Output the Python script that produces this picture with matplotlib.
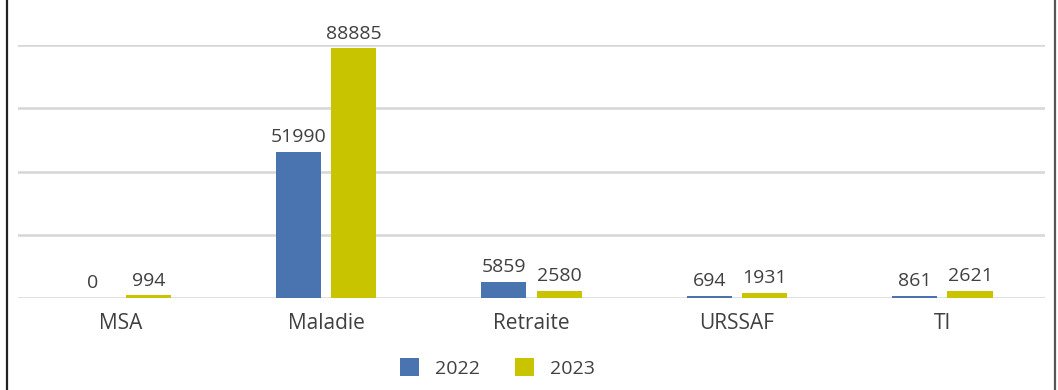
import numpy as np
import matplotlib.pyplot as plt
from matplotlib.lines import Line2D
from matplotlib.patches import Patch

categories = ["MSA", "Maladie", "Retraite", "URSSAF", "TI"]
values_2022 = [0, 51990, 5859, 694, 861]
values_2023 = [994, 88885, 2580, 1931, 2621]

col_2022 = "#4a74b0"
col_2023 = "#c8c400"
txt = "#404040"

plt.rcParams['font.family'] = ['Open Sans', 'DejaVu Sans']

fig = plt.figure(figsize=(10.58, 3.9), dpi=100)
ax = fig.add_axes([18/1058, 92/390, 1027/1058, 253/390])

x = np.arange(len(categories))
w = 0.22
off = 0.135

b1 = ax.bar(x - off, values_2022, w, color=col_2022, zorder=3)
b2 = ax.bar(x + off, values_2023, w, color=col_2023, zorder=3)

# value labels above bars
for bars in (b1, b2):
    for r in bars:
        ax.annotate(str(int(r.get_height())),
                    (r.get_x() + r.get_width()/2, r.get_height()),
                    xytext=(0, 4), textcoords="offset points",
                    ha="center", va="bottom", fontsize=14, color=txt)

ax.set_xlim(-0.5, len(categories) - 0.5)
ax.set_ylim(0, 90000)
ax.set_yticks(np.arange(0, 90001, 22500))
ax.yaxis.grid(True, color="#d6d6d6", linewidth=1.8, zorder=0)
ax.set_axisbelow(True)
ax.tick_params(axis="y", left=False, labelleft=False)
ax.tick_params(axis="x", bottom=False, pad=7)
ax.set_xticks(x)
ax.set_xticklabels(categories, fontsize=15, color=txt)
for s in ax.spines.values():
    s.set_visible(False)

legend_elements = [
    Patch(facecolor=col_2022, label="2022"),
    Patch(facecolor=col_2023, label="2023"),
]
fig.legend(handles=legend_elements, loc="center", ncol=2, frameon=False,
           bbox_to_anchor=(497/1058, 1 - 368/390), fontsize=14,
           handlelength=1.0, handleheight=1.0, columnspacing=1.8,
           labelcolor=txt)

# side borders of the image
fig.add_artist(Line2D([7/1058, 7/1058], [0, 1], color="#222222", lw=1.6,
                      transform=fig.transFigure))
fig.add_artist(Line2D([1055/1058, 1055/1058], [0, 1], color="#555555", lw=1.6,
                      transform=fig.transFigure))

fig.savefig("out.png", dpi=100)
